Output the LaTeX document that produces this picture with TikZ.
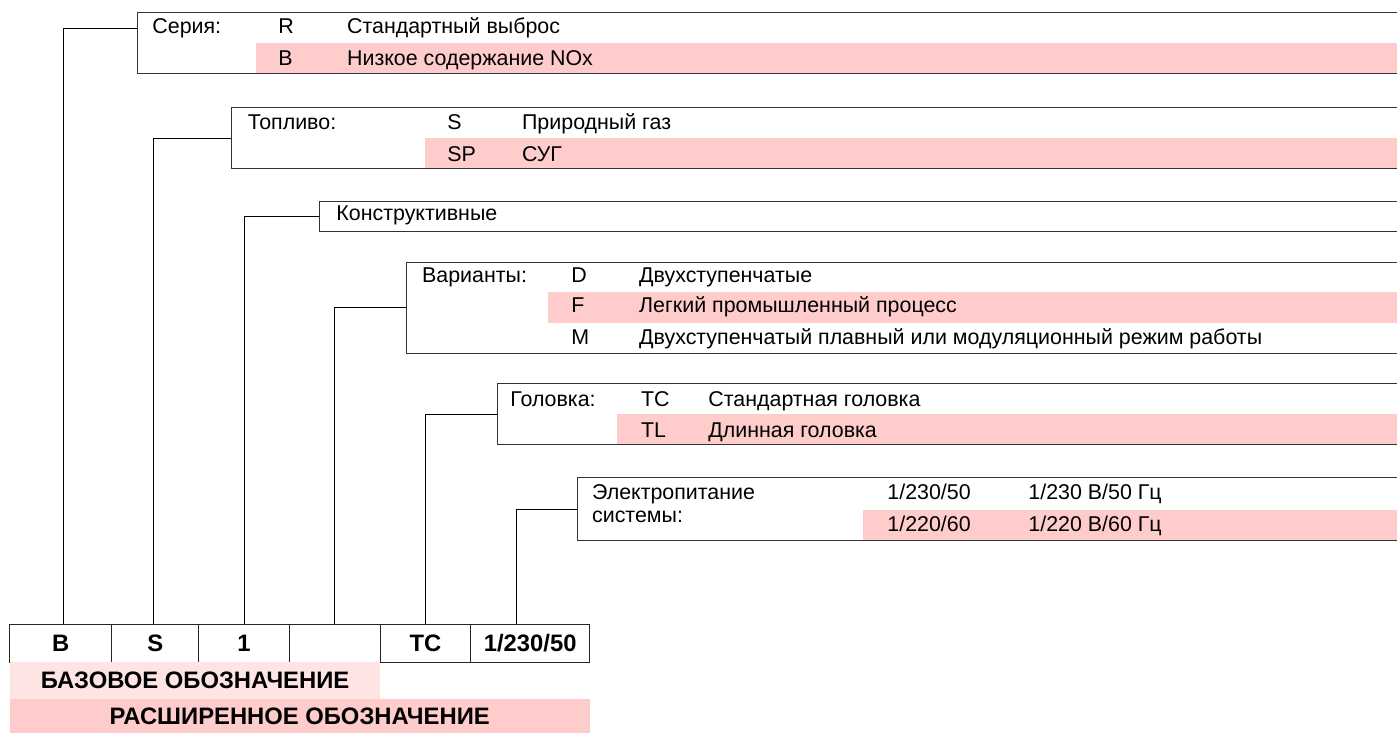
\documentclass[tikz,border=0pt]{standalone}
\usepackage{fontspec}
\setmainfont{Liberation Sans}

\definecolor{rowpink}{HTML}{FFCCCC}
\definecolor{basepink}{HTML}{FFE4E4}

\tikzset{
  grpbox/.style={draw=black!80, line width=0.55pt, inner sep=0pt, anchor=north west},
  rowband/.style={fill=rowpink},
  txt/.style={anchor=base west, inner sep=0pt, font=\fontsize{10.7}{12.8}\selectfont},
  cell/.style={draw=black!85, line width=0.55pt, inner sep=0pt, anchor=north west,
    minimum height=18.7pt, font=\fontsize{11.9}{14}\selectfont\bfseries},
  tagband/.style={inner sep=0pt, anchor=north west, text depth=-1.2pt,
    font=\fontsize{11.9}{14}\selectfont\bfseries},
  link/.style={draw=black, line width=0.5pt},
}

\begin{document}
\begin{tikzpicture}[x=0.5pt,y=-0.5pt]
  \useasboundingbox (0,0) rectangle (1397,733);
  \clip (0,0) rectangle (1397,733);

  % highlighted rows
  \fill[rowband] (256,43.3) rectangle (1400,73.3);
  \fill[rowband] (425,137.7) rectangle (1400,168.3);
  \fill[rowband] (548,292.3) rectangle (1400,322.7);
  \fill[rowband] (617.3,414) rectangle (1400,444.3);
  \fill[rowband] (863,509.5) rectangle (1400,540);

  % option groups
  \node[grpbox, minimum width=631.7pt, minimum height=30.5pt] (ser) at (136.7,12.3) {};
  \node[txt] (serLbl) at (152,33.3) {Серия:};
  \node[txt] (serR) at (278,33.3) {R};
  \node[txt] (serRtxt) at (346.7,33.3) {Стандартный выброс};
  \node[txt] (serB) at (278,65.7) {B};
  \node[txt] (serBtxt) at (346.7,65.7) {Низкое содержание NOx};

  \node[grpbox, minimum width=584.5pt, minimum height=30.5pt] (fuel) at (231,107.3) {};
  \node[txt] (fuelLbl) at (247.5,129.3) {Топливо:};
  \node[txt] (fuelS) at (447,129.3) {S};
  \node[txt] (fuelStxt) at (521.7,129.3) {Природный газ};
  \node[txt] (fuelSP) at (447,161.7) {SP};
  \node[txt] (fuelSPtxt) at (521.7,161.7) {СУГ};

  \node[grpbox, minimum width=540.4pt, minimum height=15pt] (kon) at (319.3,200.7) {};
  \node[txt] (konLbl) at (336,220.7) {Конструктивные};

  \node[grpbox, minimum width=497pt, minimum height=45.5pt] (var) at (406,261.7) {};
  \node[txt] (varLbl) at (421.7,282.3) {Варианты:};
  \node[txt] (varD) at (571,282.3) {D};
  \node[txt] (varDtxt) at (638.8,282.3) {Двухступенчатые};
  \node[txt] (varF) at (571,312.7) {F};
  \node[txt] (varFtxt) at (638.8,312.7) {Легкий промышленный процесс};
  \node[txt] (varM) at (571,344) {M};
  \node[txt] (varMtxt) at (638.8,344) {Двухступенчатый плавный или модуляционный режим работы};

  \node[grpbox, minimum width=451.7pt, minimum height=30.5pt] (head) at (496.7,383.3) {};
  \node[txt] (headLbl) at (510,406) {Головка:};
  \node[txt] (headTC) at (640.7,406) {TC};
  \node[txt] (headTCtxt) at (708,406) {Стандартная головка};
  \node[txt] (headTL) at (640.7,437.3) {TL};
  \node[txt] (headTLtxt) at (708,437.3) {Длинная головка};

  \node[grpbox, minimum width=411.7pt, minimum height=31.4pt] (pwr) at (576.7,477.3) {};
  \node[txt] (pwrLbl) at (591.7,499) {Электропитание};
  \node[txt] (pwrLblb) at (591.7,522.7) {системы:};
  \node[txt] (pwrA) at (887,499.3) {1/230/50};
  \node[txt] (pwrAtxt) at (1028,499.3) {1/230 В/50 Гц};
  \node[txt] (pwrB) at (887,531.7) {1/220/60};
  \node[txt] (pwrBtxt) at (1028,531.7) {1/220 В/60 Гц};

  % model code
  \node[cell, minimum width=50.85pt] (c1) at (9.3,624.3) {B};
  \node[cell, minimum width=43.65pt] (c2) at (111,624.3) {S};
  \node[cell, minimum width=45.2pt] (c3) at (198.3,624.3) {1};
  \node[cell, minimum width=45.65pt] (c4) at (288.7,624.3) {};
  \node[cell, minimum width=45pt] (c5) at (380,624.3) {TC};
  \node[cell, minimum width=59.65pt] (c6) at (470,624.3) {1/230/50};

  \node[tagband, fill=basepink, minimum width=185.35pt, minimum height=18.3pt] (base) at (9.3,661.7) {БАЗОВОЕ ОБОЗНАЧЕНИЕ};
  \node[tagband, fill=rowpink, minimum width=290pt, minimum height=17.35pt] (ext) at (9.3,698.3) {РАСШИРЕННОЕ ОБОЗНАЧЕНИЕ};

  % links
  \draw[link] ([yshift=-8.35pt]ser.north west) -| ([xshift=1.35pt]c1.north);
  \draw[link] (fuel.west) -| ([xshift=-1pt]c2.north);
  \draw[link] (kon.west) -| (c3.north);
  \draw[link] (var.west) -| (c4.north);
  \draw[link] (head.west) -| (c5.north);
  \draw[link] (pwr.west) -| ([xshift=-6.8pt]c6.north);
\end{tikzpicture}
\end{document}
